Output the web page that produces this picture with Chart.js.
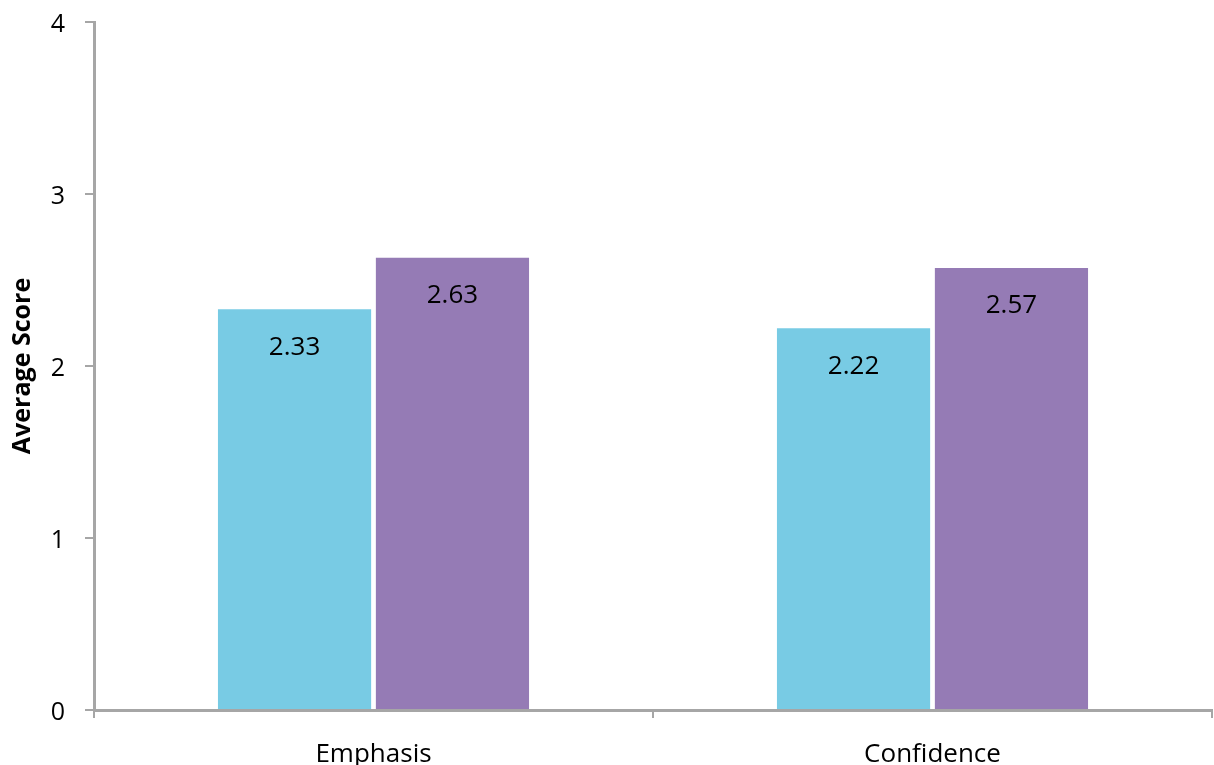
<!DOCTYPE html>
<html>
<head>
<meta charset="utf-8">
<script src="https://cdn.jsdelivr.net/npm/chart.js@4/dist/chart.umd.min.js"></script>
<style>
  html, body { margin: 0; padding: 0; background: #fff; }
  #wrap { width: 1214px; height: 765px; }
</style>
</head>
<body>
<div id="wrap"><canvas id="chart"></canvas></div>
<script>
// chart data
const categories = ['Emphasis', 'Confidence'];
const seriesA = [2.33, 2.22];
const seriesB = [2.63, 2.57];
const yTicks = [0, 1, 2, 3, 4];

const axisGrey = '#a6a6a6';
const fontFamily = '"Open Sans", "Liberation Sans", sans-serif';

// writes the value inside each bar, just under its top
const valueLabels = {
    id: 'valueLabels',
    afterDatasetsDraw(chart) {
        const ctx = chart.ctx;
        ctx.save();
        ctx.fillStyle = '#000';
        ctx.font = '26px ' + fontFamily;
        ctx.textAlign = 'center';
        ctx.textBaseline = 'middle';
        chart.data.datasets.forEach((ds, i) => {
            chart.getDatasetMeta(i).data.forEach((bar, j) => {
                ctx.fillText(ds.data[j].toFixed(2), bar.x, bar.y + 38);
            });
        });
        ctx.restore();
    }
};

const ctx = document.getElementById('chart').getContext('2d');
new Chart(ctx, {
    type: 'bar',
    data: {
        labels: categories,
        datasets: [{
            data: seriesA,
            backgroundColor: '#78cbe4',
            barPercentage: 0.97,
            categoryPercentage: 0.565
        }, {
            data: seriesB,
            backgroundColor: '#957bb5',
            barPercentage: 0.97,
            categoryPercentage: 0.565
        }]
    },
    options: {
        responsive: true,
        maintainAspectRatio: false,
        animation: false,
        layout: { padding: { top: 22, right: 2, left: 0, bottom: 0 } },
        plugins: {
            legend: { display: false },
            tooltip: { enabled: false }
        },
        scales: {
            x: {
                grid: {
                    display: true,
                    drawOnChartArea: false,
                    drawTicks: true,
                    tickLength: 8,
                    offset: true,
                    color: axisGrey,
                    lineWidth: 2
                },
                border: { color: axisGrey, width: 3 },
                ticks: {
                    color: '#000',
                    padding: 21,
                    font: { family: fontFamily, size: 26 }
                },
                afterFit(scale) {
                    scale.height = 55;
                    scale.paddingLeft = 0;
                    scale.paddingRight = 0;
                }
            },
            y: {
                min: 0,
                max: 4,
                afterBuildTicks(scale) { scale.ticks = yTicks.map(v => ({ value: v })); },
                grid: {
                    display: true,
                    drawOnChartArea: false,
                    drawTicks: true,
                    tickLength: 9,
                    color: axisGrey,
                    lineWidth: 2
                },
                border: { color: axisGrey, width: 3 },
                ticks: {
                    color: '#000',
                    padding: 20,
                    labelOffset: 3,
                    font: { family: fontFamily, size: 25 }
                },
                title: {
                    display: true,
                    text: 'Average Score',
                    color: '#000',
                    font: { family: fontFamily, size: 25, weight: 'bold' },
                    padding: { top: 8, bottom: 0 }
                },
                afterFit(scale) {
                    scale.width = 94;
                    scale.paddingTop = 0;
                    scale.paddingBottom = 0;
                }
            }
        }
    },
    plugins: [valueLabels]
});
</script>
</body>
</html>
